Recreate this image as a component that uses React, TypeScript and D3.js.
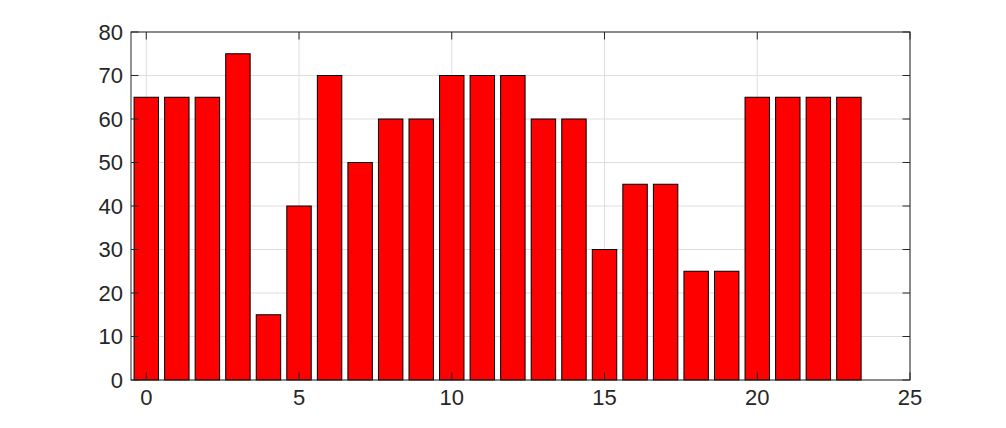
import React from 'react';
import * as d3 from 'd3';

const positions = d3.range(0, 24);
const values = [65, 65, 65, 75, 15, 40, 70, 50, 60, 60, 70, 70, 70, 60, 60, 30, 45, 45, 25, 25, 65, 65, 65, 65];
const xTicks = [0, 5, 10, 15, 20, 25];
const yTicks = [0, 10, 20, 30, 40, 50, 60, 70, 80];

const W = 1006;
const H = 428;
const margin = { top: 32, right: 96, bottom: 48, left: 131 };

const App = () => {
  const innerW = W - margin.left - margin.right;
  const innerH = H - margin.top - margin.bottom;

  const x = d3.scaleLinear().domain([-0.5, 25]).range([0, innerW]);
  const y = d3.scaleLinear().domain([0, 80]).range([innerH, 0]);
  const barW = (x(1) - x(0)) * 0.8;
  const font = 'Helvetica, "Liberation Sans", Arial, sans-serif';
  const axisColor = '#262626';
  const tickLen = 7.5;

  return (
    <svg width={W} height={H} style={{ position: 'absolute', left: 0, top: 0, background: '#fff' }}>
      <g transform={`translate(${margin.left},${margin.top})`}>
        {/* grid */}
        {xTicks.map((t) => (
          <line key={'gx' + t} x1={x(t)} x2={x(t)} y1={0} y2={innerH} stroke="#dedede" strokeWidth={1} />
        ))}
        {yTicks.map((t) => (
          <line key={'gy' + t} x1={0} x2={innerW} y1={y(t)} y2={y(t)} stroke="#dedede" strokeWidth={1} />
        ))}

        {/* bars */}
        {positions.map((p, i) => (
          <rect
            key={p}
            x={x(p) - barW / 2}
            y={y(values[i])}
            width={barW}
            height={y(0) - y(values[i])}
            fill="#ff0000"
            stroke="#000"
            strokeWidth={1}
          />
        ))}

        {/* box */}
        <rect x={0} y={0} width={innerW} height={innerH} fill="none" stroke={axisColor} strokeWidth={1} />

        {/* ticks */}
        {xTicks.map((t) => (
          <g key={'tx' + t}>
            <line x1={x(t)} x2={x(t)} y1={innerH} y2={innerH - tickLen} stroke={axisColor} />
            <line x1={x(t)} x2={x(t)} y1={0} y2={tickLen} stroke={axisColor} />
            <text
              x={x(t)}
              y={innerH + 25}
              textAnchor="middle"
              fontFamily={font}
              fontSize={22}
              fill={axisColor}
            >
              {t}
            </text>
          </g>
        ))}
        {yTicks.map((t) => (
          <g key={'ty' + t}>
            <line x1={0} x2={tickLen} y1={y(t)} y2={y(t)} stroke={axisColor} />
            <line x1={innerW} x2={innerW - tickLen} y1={y(t)} y2={y(t)} stroke={axisColor} />
            <text
              x={-8}
              y={y(t)}
              dy="0.35em"
              textAnchor="end"
              fontFamily={font}
              fontSize={22}
              fill={axisColor}
            >
              {t}
            </text>
          </g>
        ))}
      </g>
    </svg>
  );
};

export default App;
